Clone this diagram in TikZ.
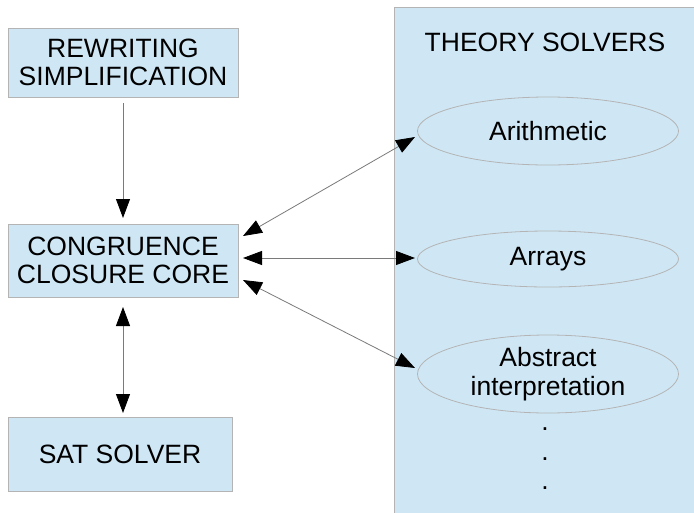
\documentclass[tikz,border=0pt]{standalone}
\usepackage{fontspec}
\setmainfont{Liberation Sans}
\usetikzlibrary{arrows.meta,shapes.geometric}
\definecolor{boxfill}{HTML}{CFE7F5}
\definecolor{boxline}{HTML}{B4B4B4}
\definecolor{arrline}{HTML}{7A7A7A}
\begin{document}
\begin{tikzpicture}[x=1pt,y=-1pt,
  lbl/.style={font=\fontsize{26.5}{28.5}\selectfont, align=center, text=black},
  box/.style={draw=boxline, fill=boxfill, line width=0.8pt, inner sep=0pt},
  solver/.style={ellipse, draw=boxline, fill=boxfill, line width=0.8pt, inner sep=0pt},
  conn/.style={draw=arrline, line width=0.8pt, {Triangle[length=19pt,width=14pt,color=black,fill=black]}-{Triangle[length=19pt,width=14pt,color=black,fill=black]}},
  oneway/.style={draw=arrline, line width=0.8pt, -{Triangle[length=19pt,width=14pt,color=black,fill=black]}}]
\useasboundingbox (0,0) rectangle (694,512);
\fill[white] (0,0) rectangle (694,512);
% theory solvers panel
\node[box, minimum width=312pt, minimum height=520pt, anchor=north west] (ts) at (394,7) {};
\node[lbl] (tstitle) at (545,42) {THEORY SOLVERS};
% left boxes
\node[box, minimum width=230pt, minimum height=69pt] (rw) at (123,62.5) {};
\node[lbl] (rwt) at (rw.center) {REWRITING\\SIMPLIFICATION};
\node[box, minimum width=230pt, minimum height=73pt] (cc) at (123,260.5) {};
\node[lbl] (cct) at (cc.center) {CONGRUENCE\\CLOSURE CORE};
\node[box, minimum width=224pt, minimum height=74pt] (sat) at (120,454) {};
\node[lbl] (satt) at (sat.center) {SAT SOLVER};
% solvers
\node[solver, minimum width=261pt, minimum height=68pt] (ar) at (548,131) {};
\node[lbl] (art) at (ar.center) {Arithmetic};
\node[solver, minimum width=261pt, minimum height=56pt] (ay) at (548,259) {};
\node[lbl] (ayt) at (ay.center) {Arrays};
\node[solver, minimum width=261pt, minimum height=78pt] (ab) at (548,374) {};
\node[lbl] (abt) at (ab.center) {Abstract\\interpretation};
% dots
\node[lbl] (d1) at (545,429) {.};
\node[lbl] (d2) at (545,459) {.};
\node[lbl] (d3) at (545,488) {.};
% connector end points
\coordinate (rwb) at (123,103);
\coordinate (cct1) at (123,218);
\coordinate (ccb) at (123,307);
\coordinate (satn) at (123,413);
\coordinate (cca) at (243,236);
\coordinate (ccy) at (243,258);
\coordinate (ccab) at (243,280);
\coordinate (ara) at (415,137);
\coordinate (aya) at (415,258);
\coordinate (aba) at (415,368);
% connectors
\draw[oneway] (rwb) -- (cct1);
\draw[conn] (ccb) -- (satn);
\draw[conn] (cca) -- (ara);
\draw[conn] (ccy) -- (aya);
\draw[conn] (ccab) -- (aba);
\end{tikzpicture}
\end{document}
